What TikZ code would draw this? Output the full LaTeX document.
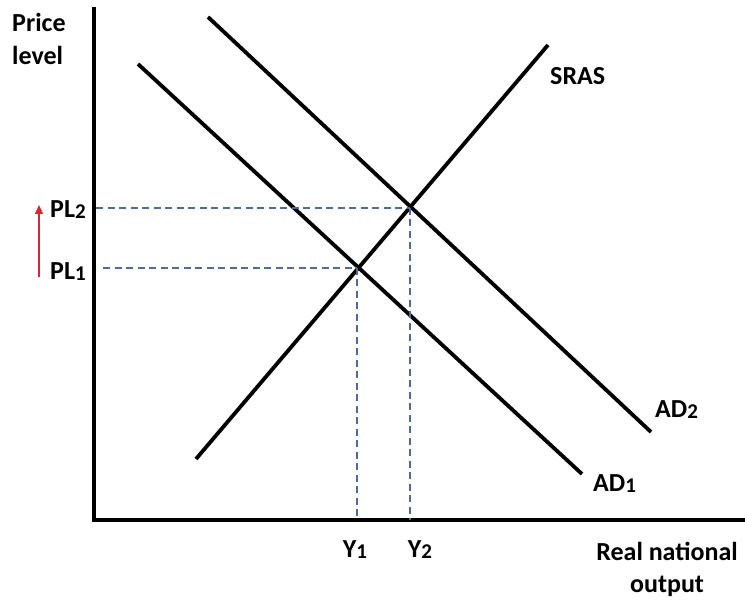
\documentclass[tikz,border=0pt]{standalone}
\usepackage{fontspec}
\setmainfont{Carlito}
\usetikzlibrary{arrows.meta}
\definecolor{dashblue}{HTML}{4F6B96}
\definecolor{arrred}{HTML}{D42A2A}
\tikzset{
  curve/.style={line width=3.8pt, line cap=butt},
  axisline/.style={line width=3.8pt},
  guide/.style={dashblue, line width=1.1pt, dash pattern=on 7pt off 4.5pt},
  lbl/.style={inner sep=0pt, font=\fontsize{26}{29}\selectfont\bfseries},
}
\newcommand{\sbs}[1]{\raisebox{-1pt}{\fontsize{21}{24}\selectfont #1}}
\begin{document}
\begin{tikzpicture}[x=1pt,y=-1pt]
\useasboundingbox (0,0) rectangle (745,601);
% axes
\coordinate (O) at (94,520);
\coordinate (ytop) at (94,7);
\coordinate (xend) at (745,520);
\draw[axisline] (ytop) -- (O) -- (xend);
% curves
\coordinate (ad1a) at (138,64);
\coordinate (ad1b) at (582,474);
\coordinate (ad2a) at (208,17);
\coordinate (ad2b) at (651,432);
\coordinate (srasa) at (196,459);
\coordinate (srasb) at (548,45);
\draw[curve] (ad1a) -- (ad1b);
\draw[curve] (ad2a) -- (ad2b);
\draw[curve] (srasa) -- (srasb);
% equilibria
\coordinate (E1) at (357,268);
\coordinate (E2) at (410,208);
\coordinate (pl1) at (103,268);
\coordinate (pl2) at (96,208);
\coordinate (y1) at (357,520);
\coordinate (y2) at (410,520);
\draw[guide] (pl2) -- (E2);
\draw[guide] (pl1) -- (E1);
\draw[guide] (E1) -- (y1);
\draw[guide] (E2) -- (y2);
% labels
\node[lbl, anchor=base west] (price) at (12,32) {Price};
\node[lbl, anchor=base west] (level) at (12,65) {level};
\node[lbl, anchor=base west] (PL2) at (50,218) {PL\sbs{2}};
\node[lbl, anchor=base west] (PL1) at (50,280) {PL\sbs{1}};
\node[lbl, anchor=base] (Y1) at (355,558) {Y\sbs{1}};
\node[lbl, anchor=base] (Y2) at (420,558) {Y\sbs{2}};
\node[lbl, anchor=base west] (SRAS) at (550,85) {SRAS};
\node[lbl, anchor=base west] (AD2) at (655,418) {AD\sbs{2}};
\node[lbl, anchor=base west] (AD1) at (593,492) {AD\sbs{1}};
\node[lbl, anchor=base] (real) at (667,561) {Real national};
\node[lbl, anchor=base] (output) at (667,592) {output};
% red arrow
\coordinate (arrlo) at (39,277);
\coordinate (arrhi) at (39,205);
\draw[arrred, line width=1.3pt, -{Triangle[length=9pt,width=8pt]}] (arrlo) -- (arrhi);
\end{tikzpicture}
\end{document}
